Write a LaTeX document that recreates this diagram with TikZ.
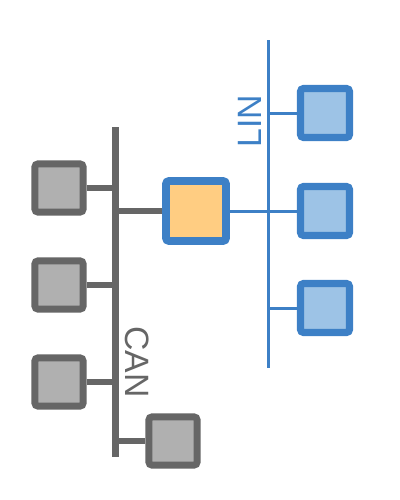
\documentclass[tikz,border=0pt]{standalone}
\usepackage{fontspec}
\setmainfont{Liberation Sans}
\usepackage{tikz}
\usetikzlibrary{positioning}

\definecolor{cangray}{HTML}{666666}
\definecolor{canfill}{HTML}{B0B0B0}
\definecolor{linblue}{HTML}{3D80C6}
\definecolor{linfill}{HTML}{9DC3E6}
\definecolor{gwfill}{HTML}{FFCD82}

\begin{document}
\begin{tikzpicture}[
        x=0.025cm, y=-0.025cm,
        canecu/.style={
            rectangle,
            draw=cangray,
            fill=canfill,
            line width=0.175cm,
            minimum size=1.2cm,
            rounded corners=2pt
        },
        linecu/.style={
            rectangle,
            draw=linblue,
            fill=linfill,
            line width=0.18cm,
            minimum size=1.22cm,
            rounded corners=2pt
        },
        gateway/.style={
            rectangle,
            draw=linblue,
            fill=gwfill,
            line width=0.19cm,
            minimum size=1.5cm,
            rounded corners=2pt
        },
        canbus/.style={
            draw=cangray,
            line width=0.17cm
        },
        linbus/.style={
            draw=linblue,
            line width=0.075cm
        },
        busname/.style={
            inner sep=0pt,
            text depth=0pt,
            font=\fontsize{24}{28}\selectfont
        }
    ]

    \useasboundingbox (0,0) rectangle (400,500);

    % CAN bus
    \coordinate (cantop) at (115.5,127);
    \coordinate (canbot) at (115.5,457);
    \draw[canbus] (cantop) -- (canbot);

    % LIN bus
    \coordinate (lintop) at (268,40);
    \coordinate (linbot) at (268,368);
    \draw[linbus] (lintop) -- (linbot);

    % CAN nodes
    \node[canecu] (can1) at (59,188) {};
    \node[canecu] (can2) at (59,285) {};
    \node[canecu] (can3) at (59,382) {};
    \node[canecu] (can4) at (173,441) {};

    % Gateway between both buses
    \node[gateway] (gw) at (196,211) {};

    % LIN nodes
    \node[linecu] (lin1) at (325,113) {};
    \node[linecu] (lin2) at (325,211) {};
    \node[linecu] (lin3) at (325,308) {};

    % Stubs to the CAN bus
    \draw[canbus] (can1) -- (can1 -| cantop);
    \draw[canbus] (can2) -- (can2 -| cantop);
    \draw[canbus] (can3) -- (can3 -| cantop);
    \draw[canbus] (can4) -- (can4 -| cantop);
    \draw[canbus] (gw) -- (gw -| cantop);

    % Stubs to the LIN bus
    \draw[linbus] (gw) -- (gw -| lintop);
    \draw[linbus] (lin1) -- (lin1 -| lintop);
    \draw[linbus] (lin2) -- (lin2 -| lintop);
    \draw[linbus] (lin3) -- (lin3 -| lintop);

    % Bus names
    \node[busname, text=cangray, rotate=-90] (canlabel) at (137.5,362) {CAN};
    \node[busname, text=linblue, rotate=90] (linlabel) at (250,121) {LIN};

\end{tikzpicture}
\end{document}
